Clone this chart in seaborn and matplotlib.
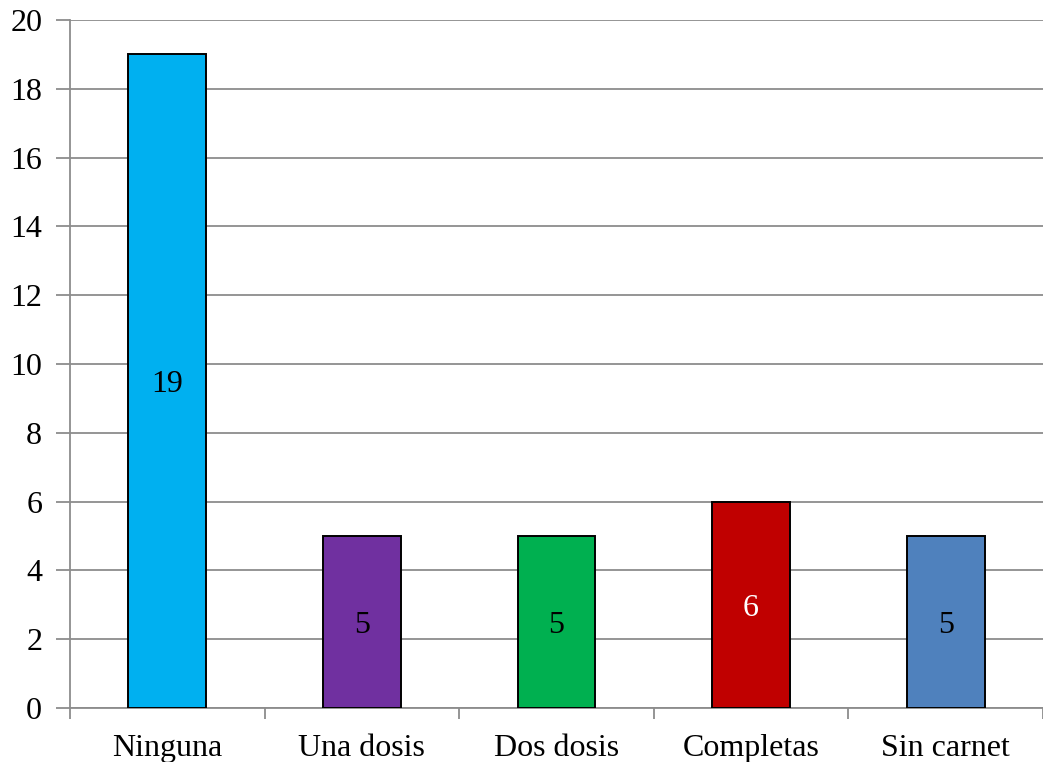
import matplotlib
matplotlib.use("Agg")
import matplotlib.pyplot as plt
import seaborn as sns
import pandas as pd
from matplotlib.ticker import FixedLocator

categories = ["Ninguna", "Una dosis", "Dos dosis", "Completas", "Sin carnet"]
values = [19, 5, 5, 6, 5]
colors = ["#00B0F0", "#7030A0", "#00B050", "#C00000", "#4F81BD"]
label_colors = ["black", "black", "black", "white", "black"]
yticks = [0, 2, 4, 6, 8, 10, 12, 14, 16, 18, 20]

sns.set_style("white")
plt.rcParams['font.family'] = ['Liberation Serif', 'DejaVu Serif']
plt.rcParams['text.color'] = 'black'
plt.rcParams['xtick.color'] = 'black'
plt.rcParams['ytick.color'] = 'black'

W, H = 1043, 762
fig = plt.figure(figsize=(W / 100, H / 100), dpi=100)
ax = fig.add_axes([70 / W, (H - 708) / H, (1043 - 70) / W, (708 - 20) / H])

df = pd.DataFrame({"cat": categories, "val": values})
sns.barplot(data=df, x="cat", y="val", hue="cat", palette=colors, legend=False,
            saturation=1, width=0.4, edgecolor="black", linewidth=1.4, ax=ax, zorder=3)

ax.set_xlim(-0.5, 4.5)
ax.set_ylim(0, 20)
ax.set_yticks(yticks)
ax.set_yticklabels([str(t) for t in yticks], fontsize=23)
ax.yaxis.grid(True, color="#8c8c8c", linewidth=1.3, zorder=0)
ax.set_axisbelow(True)
ax.set_xlabel("")
ax.set_ylabel("")

for s in ["top", "right"]:
    ax.spines[s].set_visible(False)
for s in ["left", "bottom"]:
    ax.spines[s].set_color("#8c8c8c")
    ax.spines[s].set_linewidth(1.3)

ax.tick_params(axis="y", which="major", direction="out", length=10, width=1.3,
               color="#8c8c8c", labelcolor="black", left=True, pad=10)
ax.tick_params(axis="x", which="major", length=0, labelsize=23, labelcolor="black", pad=19)
ax.xaxis.set_minor_locator(FixedLocator([-0.5, 0.5, 1.5, 2.5, 3.5, 4.5]))
ax.tick_params(axis="x", which="minor", direction="out", length=8, width=1.3,
               color="#8c8c8c", bottom=True)

bars = [b for c in ax.containers for b in c]
for bar, v, lc in zip(bars, values, label_colors):
    ax.text(bar.get_x() + bar.get_width() / 2, v / 2, str(v), ha="center",
            va="center_baseline", fontsize=23, color=lc, zorder=4)

fig.savefig("out.png", dpi=100)
